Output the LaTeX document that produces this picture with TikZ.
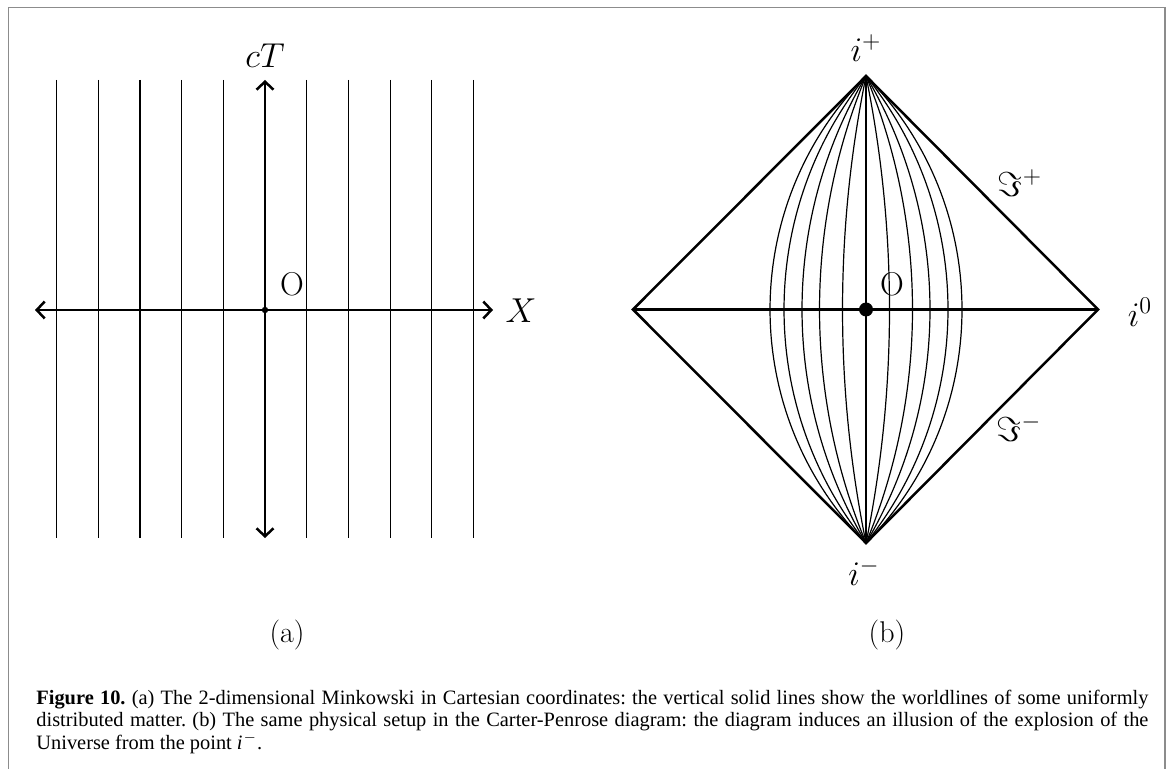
\documentclass[tikz,border=0pt]{standalone}
\usepackage{fontspec}
\newfontfamily\capfont{Liberation Serif}
\usetikzlibrary{arrows.meta}
\begin{document}
\begin{tikzpicture}[x=0.5pt,y=-0.5pt,
  thinline/.style={line width=0.6pt},
  thickline/.style={line width=1.25pt},
  axisarrow/.style={thickline,{Straight Barb[length=4pt,width=8.5pt]}-{Straight Barb[length=4pt,width=8.5pt]}},
  lab/.style={font=\fontsize{16.5}{20}\selectfont, inner sep=0pt},
  panel/.style={font=\fontsize{15}{18}\selectfont, inner sep=0pt},
  frame/.style={draw=black!45, line width=0.75pt}]
\useasboundingbox (0,0) rectangle (1171,769);
\draw[frame] (8.5,769) -- (8.5,7.5) -- (1165,7.5) -- (1165,769);

% ---------- panel (a)
\coordinate (aO) at (265,310);
\coordinate (aT) at (265,80);
\coordinate (aB) at (265,538);
\coordinate (aL) at (35,310);
\coordinate (aR) at (493,310);
\foreach \k in {-5,-4,-3,-2,-1,1,2,3,4,5}{
  \draw[thinline] (265+\k*41.7,80) -- (265+\k*41.7,538);
}
\draw[axisarrow] (aB) -- (aT);
\draw[axisarrow] (aL) -- (aR);
\fill (aO) circle[radius=3.2];
\node[lab] (cT) at (265,56) {$cT$};
\node[lab] (Xl) at (521,311) {$X$};
\node[lab] (Oa) at (292,284) {O};
\node[panel] (pa) at (287,635) {(a)};

% ---------- panel (b)
\coordinate (ip) at (866,76);
\coordinate (im) at (866,543);
\coordinate (iL) at (633,309.5);
\coordinate (iz) at (1098,309.5);
\coordinate (bO) at (866,309.5);
\foreach \w in {23.5,46.5,64,82,96}{
  \pgfmathsetmacro\R{(233.5*2.335+\w*\w/100)/(2*\w/100)}
  \pgfmathsetmacro\ph{asin(233.5/\R)}
  \draw[thinline] (im) arc[start angle=\ph, end angle=-\ph, radius=\R];
  \draw[thinline] (im) arc[start angle=180-\ph, end angle=180+\ph, radius=\R];
}
\draw[thickline, line join=miter] (ip) -- (iz) -- (im) -- (iL) -- cycle;
\draw[thickline] (iL) -- (iz);
\draw[thickline] (im) -- (ip);
\fill (bO) circle[radius=7];
\node[lab] (ipl) at (866,48) {$i^+$};
\node[lab] (iml) at (864,572) {$i^-$};
\node[lab] (izl) at (1140,312) {$i^0$};
\node[lab] (scp) at (1020,183) {$\Im^+$};
\node[lab] (scm) at (1019,428) {$\Im^-$};
\node[lab] (Ob) at (892,284) {O};
\node[panel] (pb) at (887,635) {(b)};

% ---------- caption
\node[anchor=north west, inner sep=0pt, text width=556pt, align=justify,
      font=\capfont\fontsize{10.2}{11.1}\selectfont\frenchspacing] (cap) at (36,690)
  {\textbf{Figure 10.} (a) The 2-dimensional Minkowski in Cartesian coordinates: the vertical solid lines show the worldlines of some uniformly\linebreak
   distributed matter. (b) The same physical setup in the Carter-Penrose diagram: the diagram induces an illusion of the explosion of the\linebreak
   Universe from the point \textit{i}\textsuperscript{\kern0.5pt$-$}.};
\end{tikzpicture}
\end{document}
